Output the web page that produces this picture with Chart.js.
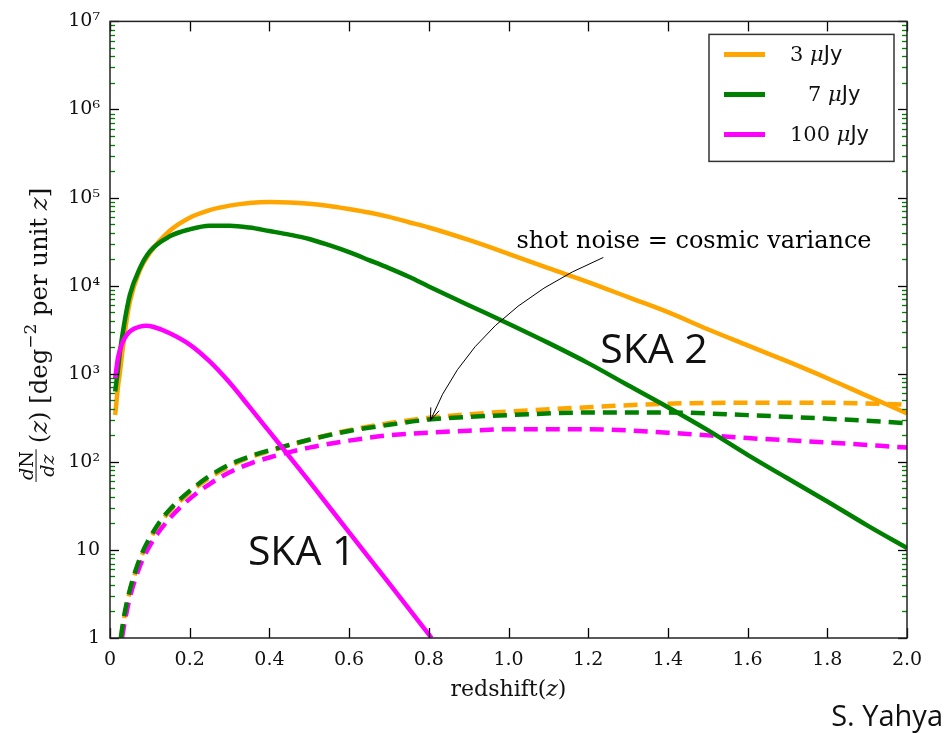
<!DOCTYPE html>
<html><head><meta charset="utf-8">
<script src="https://cdn.jsdelivr.net/npm/chart.js@4.4.0/dist/chart.umd.min.js"></script>
<style>html,body{margin:0;padding:0;background:#fff;}#wrap{width:947px;height:733px;}</style>
</head><body><div id="wrap"><canvas id="c" width="947" height="733"></canvas></div>
<script>
// ---------- data ----------
const seriesLabels = ["3 μJy", "7 μJy", "100 μJy"];
const seriesColors = ["#FFA500", "#008000", "#FF00FF"];

const xTickValues = [0, 0.2, 0.4, 0.6, 0.8, 1.0, 1.2, 1.4, 1.6, 1.8, 2.0];
const xTickLabels = ["0", "0.2", "0.4", "0.6", "0.8", "1.0", "1.2", "1.4", "1.6", "1.8", "2.0"];
const yTickValues = [1, 10, 100, 1e3, 1e4, 1e5, 1e6, 1e7];
const yTickLabels = ["1", "10", "10²", "10³", "10⁴", "10⁵", "10⁶", "10⁷"];

// dN/dz for SKA flux limits (solid)
const zSolid = [0.013,0.02,0.025,0.035,0.05,0.075,0.1,0.15,0.2,0.25,0.3,0.35,0.4,0.45,0.5,0.55,0.6,0.65,0.7,0.75,0.8,0.9,1.0,1.1,1.2,1.3,1.4,1.5,1.6,1.7,1.8,1.9,2.0];
const dndz3  = [340,710,1050,2500,6600,15000,23500,42000,59000,72000,81000,87000,89100,88100,85100,80400,74100,67600,60300,52500,45700,33000,23000,15800,11000,7400,5000,3200,2100,1380,890,560,355];
const dndz7  = [630,1120,1780,3550,7900,15800,24500,36300,43600,47900,47900,45700,41700,38000,33900,28800,24000,19500,15800,12600,9800,6000,3700,2240,1320,740,417,229,120,65,35.5,19,10.5];
const z100   = [0.013,0.02,0.03,0.045,0.06,0.075,0.09,0.11,0.15,0.2,0.25,0.3,0.35,0.4,0.5,0.6,0.7,0.8,0.807];
const dndz100 = [890,1510,2190,2880,3240,3430,3510,3390,2880,2140,1380,794,420,220,60,15.8,4.2,1.1,1.0];

// shot noise = cosmic variance (dashed)
const zSn   = [0.027,0.035,0.05,0.065,0.08,0.1,0.125,0.15,0.2,0.25,0.3,0.35,0.4,0.5,0.6,0.7,0.8,0.9,1.0,1.2,1.4,1.6,1.8,2.0];
const sn3   = [0.95,1.62,3.4,5.75,8.7,13.2,20,27.5,44.7,66,89,112,132,178,229,275,316,347,372,417,457,468,468,447];
const sn7   = [1.0,1.74,3.55,6.0,9.1,13.8,20.9,28.8,46.8,69.2,93.3,115,135,178,224,263,302,324,339,363,363,339,309,275];
const zSn100 = [0.03,0.04,0.05,0.065,0.08,0.1,0.125,0.15,0.2,0.25,0.3,0.35,0.4,0.5,0.6,0.7,0.8,0.9,1.0,1.2,1.4,1.6,1.8,2.0];
const sn100 = [1.0,1.8,2.9,4.9,7.4,11.2,16.6,22.9,38,56,76,95,112,145,174,200,214,226,234,234,214,186,166,145];

// annotation anchors (data coordinates)
const annotText = "shot noise = cosmic variance";
const annotPos = {z: 1.02, v: 27000};
const arrowFrom = {z: 1.238, v: 20900};
const arrowCtrl = {z: 0.913, v: 5000};
const arrowTo = {z: 0.804, v: 295};
const skaLabels = [{text: "SKA 1", z: 0.346, v: 6.7}, {text: "SKA 2", z: 1.23, v: 1318}];
const creditText = "S. Yahya";

// ---------- chart ----------
const pts = (zs, vs) => zs.map((z, i) => ({x: z, y: vs[i]}));
const SERIF = "'DejaVu Serif', serif";

function mk(label, zs, vs, color, dashed, order) {
  return {
    label, data: pts(zs, vs), borderColor: color, backgroundColor: color,
    borderWidth: 4.5, borderDash: dashed ? [14, 8] : [],
    pointRadius: 0, fill: false, cubicInterpolationMode: 'monotone', order
  };
}

const datasets = [
  mk(seriesLabels[0], zSolid, dndz3, seriesColors[0], false, 2),
  mk(seriesLabels[1], zSolid, dndz7, seriesColors[1], false, 1),
  mk(seriesLabels[2], z100, dndz100, seriesColors[2], false, 0),
  mk(seriesLabels[0] + " sn=cv", zSn, sn3, seriesColors[0], true, 5),
  mk(seriesLabels[1] + " sn=cv", zSn, sn7, seriesColors[1], true, 3),
  mk(seriesLabels[2] + " sn=cv", zSn100, sn100, seriesColors[2], true, 4)
];

function seg(ctx, x1, y1, x2, y2) { ctx.beginPath(); ctx.moveTo(x1, y1); ctx.lineTo(x2, y2); ctx.stroke(); }

function drawPieces(ctx, pieces, x, y) {
  let cx = x;
  for (const p of pieces) {
    ctx.font = p.font;
    ctx.fillText(p.t, cx, y + (p.dy || 0));
    cx += ctx.measureText(p.t).width;
  }
  return cx - x;
}
function measurePieces(ctx, pieces) {
  let w = 0;
  for (const p of pieces) { ctx.font = p.font; w += ctx.measureText(p.t).width; }
  return w;
}

function yTitlePieces(fs) {
  return [
    {t: "(", font: fs + "px " + SERIF},
    {t: "z", font: "italic " + fs + "px " + SERIF},
    {t: ") [deg", font: fs + "px " + SERIF},
    {t: "−2", font: Math.round(fs * 0.68) + "px " + SERIF, dy: -fs * 0.45},
    {t: " per unit ", font: fs + "px " + SERIF},
    {t: "z", font: "italic " + fs + "px " + SERIF},
    {t: "]", font: fs + "px " + SERIF}
  ];
}

const decor = {
  id: 'decor',
  afterDatasetsDraw(chart) {
    const {ctx, chartArea: a, scales: {x, y}} = chart;
    ctx.save();
    // y ticks
    ctx.lineWidth = 1.3;
    for (let d = 0; d < yTickValues.length; d++) {
      const py = Math.round(y.getPixelForValue(yTickValues[d])) + 0.5;
      ctx.strokeStyle = '#000';
      seg(ctx, a.left, py, a.left + 9, py);
      seg(ctx, a.right - 9, py, a.right, py);
      if (d < yTickValues.length - 1) {
        ctx.strokeStyle = '#008000';
        for (let m = 2; m <= 9; m++) {
          const q = Math.round(y.getPixelForValue(m * yTickValues[d])) + 0.5;
          seg(ctx, a.left, q, a.left + 5, q);
          seg(ctx, a.right - 5, q, a.right, q);
        }
      }
    }
    // x ticks
    ctx.strokeStyle = '#000';
    for (const v of xTickValues) {
      const px = Math.round(x.getPixelForValue(v)) + 0.5;
      seg(ctx, px, a.bottom, px, a.bottom - 10);
      seg(ctx, px, a.top, px, a.top + 10);
    }
    // frame
    ctx.strokeStyle = '#222';
    ctx.lineWidth = 1.5;
    ctx.strokeRect(a.left, a.top, a.right - a.left, a.bottom - a.top);

    // arrow
    const P = (o) => [x.getPixelForValue(o.z), y.getPixelForValue(o.v)];
    const [x0, y0] = P(arrowFrom), [xc, yc] = P(arrowCtrl), [x1, y1] = P(arrowTo);
    ctx.strokeStyle = '#000';
    ctx.lineWidth = 1;
    ctx.beginPath(); ctx.moveTo(x0, y0); ctx.quadraticCurveTo(xc, yc, x1, y1); ctx.stroke();
    const ang = Math.atan2(y1 - yc, x1 - xc);
    const hl = 13, ha = 0.35;
    seg(ctx, x1, y1, x1 - hl * Math.cos(ang - ha), y1 - hl * Math.sin(ang - ha));
    seg(ctx, x1, y1, x1 - hl * Math.cos(ang + ha), y1 - hl * Math.sin(ang + ha));

    // annotation text
    ctx.fillStyle = '#000';
    ctx.textBaseline = 'alphabetic';
    ctx.textAlign = 'left';
    ctx.font = "24px " + SERIF;
    ctx.fillText(annotText, x.getPixelForValue(annotPos.z), y.getPixelForValue(annotPos.v));

    // SKA labels
    ctx.font = "41px 'Open Sans', 'Noto Sans', sans-serif";
    ctx.fillStyle = '#111';
    for (const s of skaLabels) ctx.fillText(s.text, x.getPixelForValue(s.z), y.getPixelForValue(s.v));

    // legend
    const bw = 185, bh = 127;
    const lx = a.right - 13 - bw, ly = a.top + 13;
    ctx.fillStyle = '#fff';
    ctx.fillRect(lx, ly, bw, bh);
    ctx.strokeStyle = '#333';
    ctx.lineWidth = 1.5;
    ctx.strokeRect(lx, ly, bw, bh);
    const indent = [0, 18, 0];
    ctx.textBaseline = 'middle';
    for (let i = 0; i < 3; i++) {
      const yy = ly + 20 + 40 * i;
      ctx.strokeStyle = seriesColors[i];
      ctx.lineWidth = 5;
      seg(ctx, lx + 15, yy, lx + 56, yy);
      const [num, unit] = seriesLabels[i].split(' ');
      ctx.fillStyle = '#111';
      drawPieces(ctx, [
        {t: num + ' ', font: "21px " + SERIF},
        {t: unit[0], font: "italic 21px " + SERIF},
        {t: unit.slice(1), font: "21px 'DejaVu Sans', sans-serif"}
      ], lx + 81 + indent[i], yy + 1);
    }
    ctx.restore();
  },
  afterDraw(chart) {
    const {ctx, chartArea: a} = chart;
    ctx.save();
    ctx.fillStyle = '#111';
    ctx.textBaseline = 'alphabetic';
    ctx.textAlign = 'left';
    // x title
    const xt = [
      {t: "redshift(", font: "22px " + SERIF},
      {t: "z", font: "italic 22px " + SERIF},
      {t: ")", font: "22px " + SERIF}
    ];
    const xw = measurePieces(ctx, xt);
    drawPieces(ctx, xt, (a.left + a.right) / 2 - xw / 2, a.bottom + 58);

    // y title (rotated), fitted to span screen y 482 .. 188
    const span = 294;
    let fs = 21;
    const fracOf = (f) => {
      const ff = Math.round(f * 0.78) + "px " + SERIF, ffi = "italic " + Math.round(f * 0.78) + "px " + SERIF;
      const numW = measurePieces(ctx, [{t: "d", font: ffi}, {t: "N", font: ff}]);
      const denW = measurePieces(ctx, [{t: "dz", font: ffi}]);
      return {ff, ffi, numW, denW, w: Math.max(numW, denW) + 4};
    };
    let tot = fracOf(fs).w + 6 + measurePieces(ctx, yTitlePieces(fs));
    fs = fs * span / tot;
    const fr = fracOf(fs);
    const yt = yTitlePieces(fs);
    ctx.translate(47, 0);
    ctx.rotate(-Math.PI / 2);
    const x0 = -482;
    const fy = fs * 0.45;
    drawPieces(ctx, [{t: "d", font: fr.ffi}, {t: "N", font: fr.ff}], x0 + (fr.w - fr.numW) / 2, -fy - 3);
    drawPieces(ctx, [{t: "dz", font: fr.ffi}], x0 + (fr.w - fr.denW) / 2, -fy + fs * 0.75);
    ctx.strokeStyle = '#111';
    ctx.lineWidth = 1;
    seg(ctx, x0, -fy, x0 + fr.w, -fy);
    drawPieces(ctx, yt, x0 + fr.w + 6, 0);
    ctx.setTransform(1, 0, 0, 1, 0, 0);

    // credit
    ctx.font = "29px 'Open Sans', 'Noto Sans', sans-serif";
    ctx.textAlign = 'right';
    ctx.fillStyle = '#111';
    ctx.fillText(creditText, chart.width - 4, 726);
    ctx.restore();
  }
};

new Chart(document.getElementById('c'), {
  type: 'line',
  data: {datasets},
  options: {
    responsive: false, animation: false, devicePixelRatio: 1,
    layout: {padding: {top: 21, right: 40, left: 0, bottom: 0}},
    plugins: {legend: {display: false}, tooltip: {enabled: false}},
    scales: {
      x: {
        type: 'linear', min: 0, max: 2,
        afterBuildTicks: s => { s.ticks = xTickValues.map(v => ({value: v})); },
        afterFit: s => { s.height = 95; },
        grid: {display: false, drawTicks: false}, border: {display: false},
        ticks: {
          color: '#111', padding: 11, maxRotation: 0, autoSkip: false,
          font: {family: SERIF, size: 19},
          callback: (v) => { const i = xTickValues.findIndex(t => Math.abs(t - v) < 1e-9); return i >= 0 ? xTickLabels[i] : ''; }
        }
      },
      y: {
        type: 'logarithmic', min: 1, max: 1e7,
        afterBuildTicks: s => { s.ticks = yTickValues.map(v => ({value: v})); },
        afterFit: s => { s.width = 110; },
        grid: {display: false, drawTicks: false}, border: {display: false},
        ticks: {
          color: '#111', padding: 10, autoSkip: false,
          font: {family: SERIF, size: 19},
          callback: (v) => { const i = yTickValues.findIndex(t => Math.abs(t - v) < 1e-6 * t); return i >= 0 ? yTickLabels[i] : ''; }
        }
      }
    }
  },
  plugins: [decor]
});
</script>
</body></html>
